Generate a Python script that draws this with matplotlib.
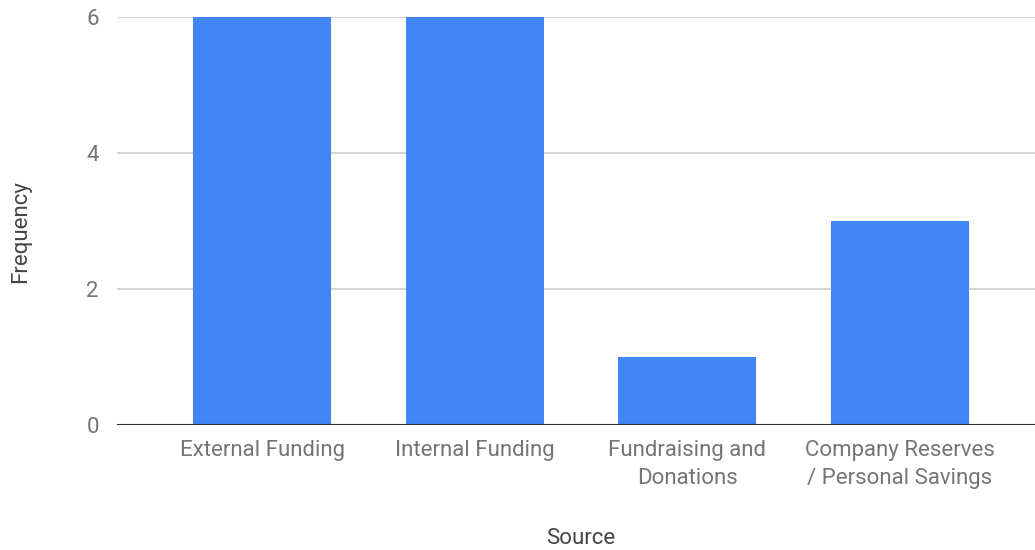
import matplotlib
matplotlib.use("Agg")
import matplotlib.pyplot as plt

categories = ["External Funding", "Internal Funding", "Fundraising and\nDonations",
              "Company Reserves\n/ Personal Savings"]
frequency = [6, 6, 1, 3]
y_ticks = [0, 2, 4, 6]

plt.rcParams["font.family"] = ["Roboto", "DejaVu Sans"]

fig = plt.figure(figsize=(10.35, 5.5), dpi=100)
ax = fig.add_axes([117 / 1035, 1 - 425 / 550, 918 / 1035, 408 / 550])

x = list(range(len(categories)))
ax.bar(x, frequency, width=0.65, color="#4285F4", zorder=3)

ax.set_xlim(-145 / 212.5, 3 + 135 / 212.5)
ax.set_ylim(0, 6)
ax.set_yticks(y_ticks)
ax.set_yticklabels([str(v) for v in y_ticks])
ax.set_xticks(x)
ax.set_xticklabels(categories, linespacing=1.4)

ax.grid(axis="y", color="#cccccc", linewidth=1.2, zorder=0)
ax.axhline(0, color="#333333", linewidth=1.5, zorder=4)
for s in ax.spines.values():
    s.set_visible(False)

ax.tick_params(axis="both", length=0, labelsize=16, labelcolor="#757575")
ax.tick_params(axis="x", pad=11)
ax.tick_params(axis="y", pad=13)

fig.text(581 / 1035, 1 - 538 / 550, "Source", fontsize=16, color="#444444",
         ha="center", va="center")
fig.text(21 / 1035, 1 - 232 / 550, "Frequency", fontsize=16, color="#444444",
         ha="center", va="center", rotation=90)

fig.savefig("out.png", dpi=100)
